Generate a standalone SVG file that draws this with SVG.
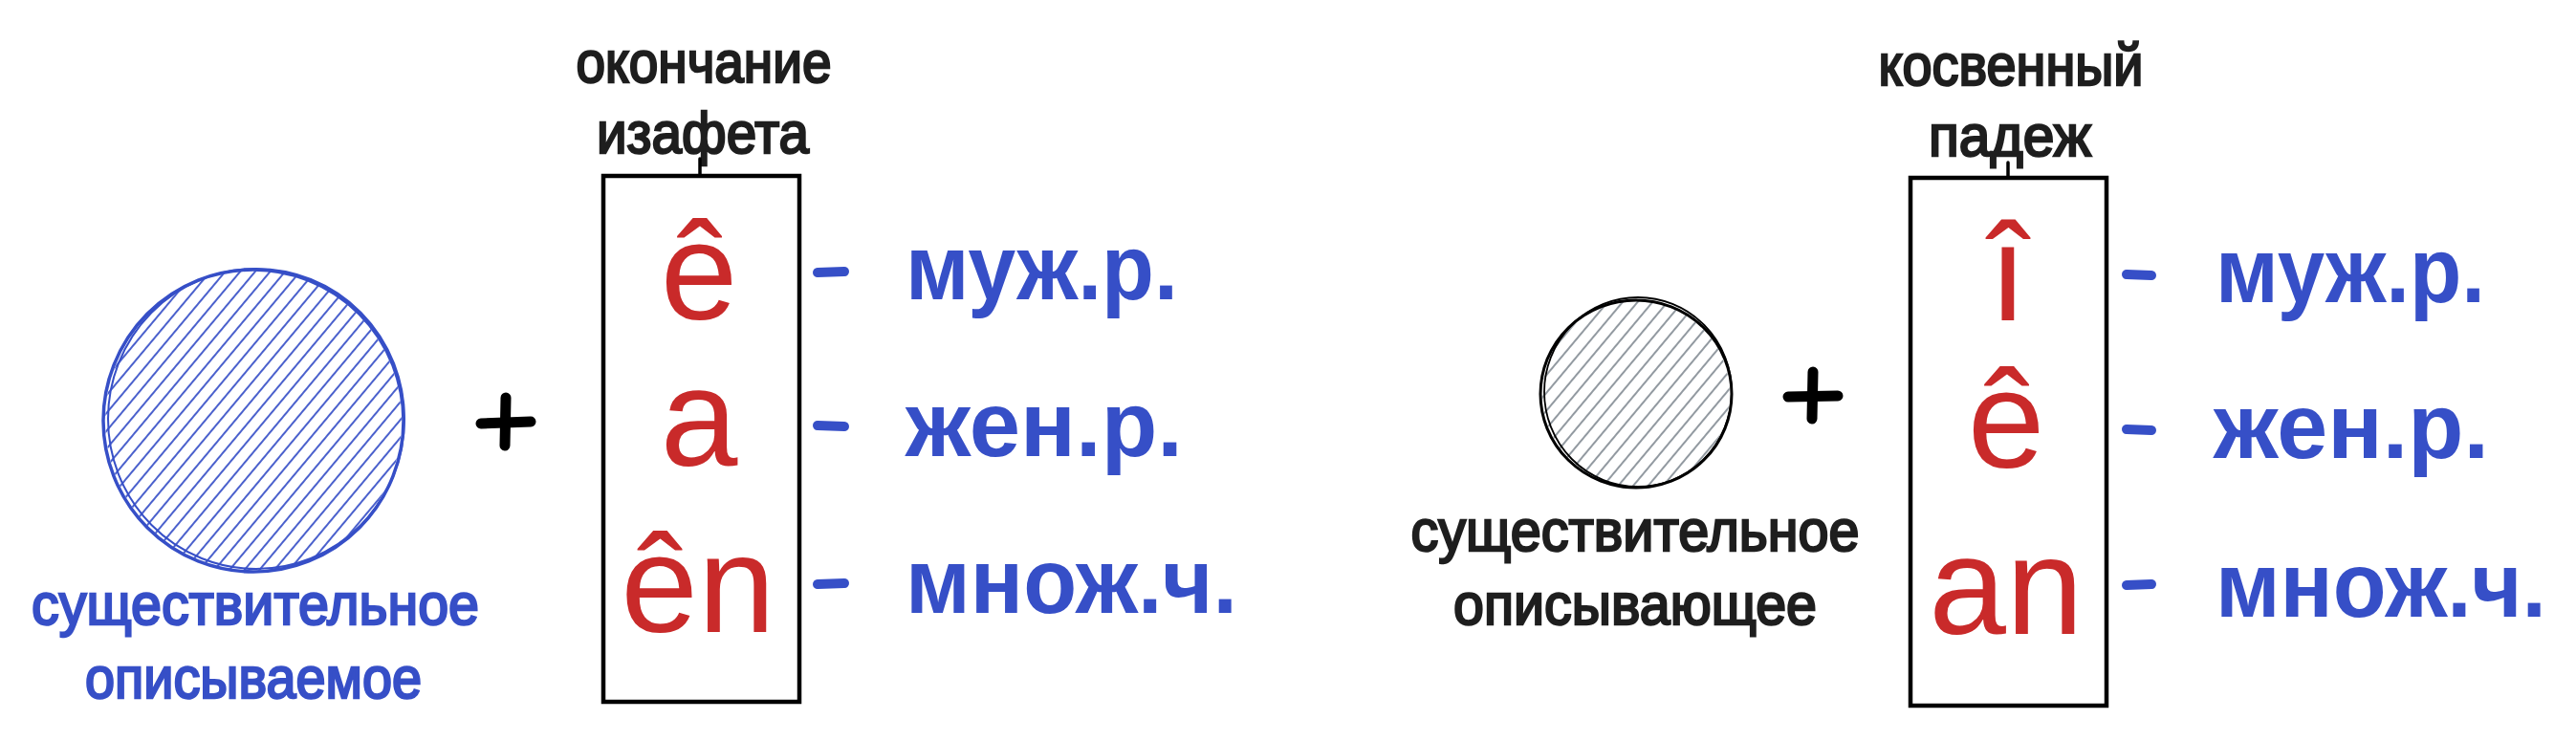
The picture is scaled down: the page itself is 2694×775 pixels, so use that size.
<svg xmlns="http://www.w3.org/2000/svg" width="2694" height="775" viewBox="0 0 2694 775">
  <style>
    .hand { font-family: "Liberation Sans", "DejaVu Sans", sans-serif; }
    .lbl { fill: #1e1e1e; font-size: 62px; stroke: #1e1e1e; stroke-width: 2.5; }
    .blue { fill: #364fc7; font-size: 96px; font-weight: bold; }
    .bluecap { fill: #364fc7; font-size: 62px; stroke: #364fc7; stroke-width: 2.5; }
    .red { font-family: "Liberation Sans", Arial, sans-serif; fill: #c92a2a; font-size: 145px; text-anchor: middle; }
    .box { fill: none; stroke: #000; stroke-width: 4.5; }
    .tick { stroke: #000; stroke-width: 3.5; stroke-linecap: round; }
    .dash { stroke: #364fc7; stroke-width: 10; stroke-linecap: round; }
    .plus { stroke: #000; stroke-width: 11; stroke-linecap: round; }
  </style>
  <defs>
    <pattern id="hatchBlue" patternUnits="userSpaceOnUse" width="12" height="12" patternTransform="rotate(40)">
      <line x1="3" y1="0" x2="3" y2="12" stroke="#364fc7" stroke-width="1.8"/>
    </pattern>
    <pattern id="hatchGray" patternUnits="userSpaceOnUse" width="12" height="12" patternTransform="rotate(40)">
      <line x1="3" y1="0" x2="3" y2="12" stroke="#868e96" stroke-width="1.8"/>
    </pattern>
  </defs>
  <rect width="2694" height="775" fill="#ffffff"/>

  <!-- Left part -->
  <g id="noun-described">
    <ellipse cx="265" cy="440" rx="155" ry="157" fill="url(#hatchBlue)"/>
    <ellipse cx="265" cy="440" rx="157" ry="158" fill="none" stroke="#364fc7" stroke-width="3.5"/>
    <ellipse cx="268" cy="438" rx="155" ry="157" fill="none" stroke="#364fc7" stroke-width="2"/>
    <text class="hand bluecap" x="267" y="653" text-anchor="middle" textLength="468" lengthAdjust="spacingAndGlyphs">существительное</text>
    <text class="hand bluecap" x="265" y="730" text-anchor="middle" textLength="352" lengthAdjust="spacingAndGlyphs">описываемое</text>
  </g>

  <g id="plus-left">
    <line class="plus" x1="503" y1="443" x2="555" y2="441"/>
    <line class="plus" x1="529" y1="416" x2="528" y2="466"/>
  </g>

  <g id="izafet-box">
    <text class="hand lbl" x="736" y="86" text-anchor="middle" textLength="267" lengthAdjust="spacingAndGlyphs">окончание</text>
    <text class="hand lbl" x="735" y="160" text-anchor="middle" textLength="222" lengthAdjust="spacingAndGlyphs">изафета</text>
    <line class="tick" x1="732" y1="166" x2="732" y2="184"/>
    <rect class="box" x="631" y="184" width="205" height="550"/>
    <text class="red" x="731" y="334">ê</text>
    <text class="red" x="731" y="487">a</text>
    <text class="red" x="730" y="661">ên</text>
  </g>

  <g id="labels-left">
    <text class="hand blue" x="947" y="313" textLength="285" lengthAdjust="spacingAndGlyphs">муж.р.</text>
    <text class="hand blue" x="947" y="477" textLength="290" lengthAdjust="spacingAndGlyphs">жен.р.</text>
    <text class="hand blue" x="947" y="641" textLength="347" lengthAdjust="spacingAndGlyphs">множ.ч.</text>
  </g>

  <!-- Right part -->
  <g id="noun-describing">
    <ellipse cx="1711" cy="412" rx="98" ry="97" fill="url(#hatchGray)"/>
    <ellipse cx="1711" cy="412" rx="100" ry="98" fill="none" stroke="#000" stroke-width="3"/>
    <ellipse cx="1713" cy="410" rx="98" ry="99" fill="none" stroke="#000" stroke-width="1.8"/>
    <text class="hand lbl" x="1710" y="576" text-anchor="middle" textLength="469" lengthAdjust="spacingAndGlyphs">существительное</text>
    <text class="hand lbl" x="1710" y="653" text-anchor="middle" textLength="380" lengthAdjust="spacingAndGlyphs">описывающее</text>
  </g>

  <g id="plus-right">
    <line class="plus" x1="1870" y1="415" x2="1922" y2="414"/>
    <line class="plus" x1="1896" y1="389" x2="1895" y2="438"/>
  </g>

  <g id="case-box">
    <text class="hand lbl" x="2103" y="89" text-anchor="middle" textLength="277" lengthAdjust="spacingAndGlyphs">косвенный</text>
    <text class="hand lbl" x="2102" y="163" text-anchor="middle" textLength="170" lengthAdjust="spacingAndGlyphs">падеж</text>
    <line class="tick" x1="2100" y1="170" x2="2100" y2="186"/>
    <rect class="box" x="1998" y="186" width="205" height="552"/>
    <text class="red" x="2100" y="335">î</text>
    <text class="red" x="2098" y="489">ê</text>
    <text class="red" x="2098" y="663">an</text>
  </g>

  <g id="labels-right">
    <text class="hand blue" x="2317" y="316" textLength="282" lengthAdjust="spacingAndGlyphs">муж.р.</text>
    <text class="hand blue" x="2315" y="479" textLength="288" lengthAdjust="spacingAndGlyphs">жен.р.</text>
    <text class="hand blue" x="2317" y="645" textLength="346" lengthAdjust="spacingAndGlyphs">множ.ч.</text>
  </g>

  <g id="connectors">
    <line class="dash" x1="855" y1="285" x2="883" y2="284"/>
    <line class="dash" x1="855" y1="445" x2="883" y2="446"/>
    <line class="dash" x1="855" y1="611" x2="883" y2="610"/>
    <line class="dash" x1="2224" y1="287" x2="2250" y2="288"/>
    <line class="dash" x1="2224" y1="449" x2="2250" y2="450"/>
    <line class="dash" x1="2224" y1="612" x2="2250" y2="611"/>
  </g>
</svg>
